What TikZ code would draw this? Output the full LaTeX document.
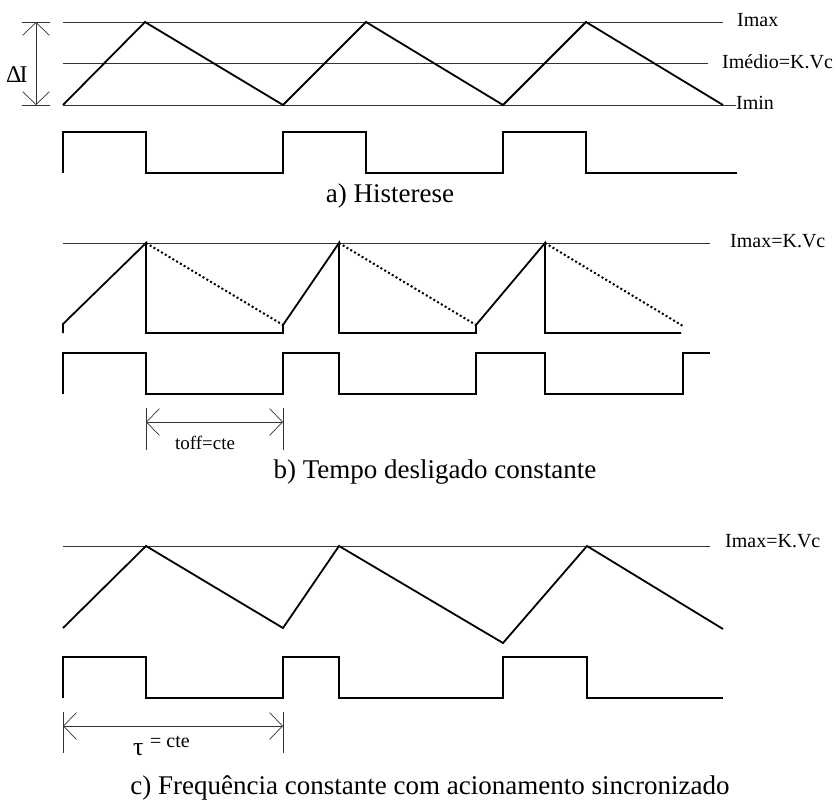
\documentclass[tikz,border=0pt]{standalone}
\usepackage{fontspec}
\setmainfont{Liberation Serif}
\usetikzlibrary{arrows.meta}
\begin{document}
\begin{tikzpicture}[x=1pt,y=-1pt,
  wave/.style={line width=1.8pt, line join=miter},
  refline/.style={line width=0.8pt, black!80},
  dimline/.style={line width=0.7pt, black!80},
  dimarrow/.style={dimline, {Straight Barb[length=13pt,width=27pt]}-{Straight Barb[length=13pt,width=27pt]}},
  dotline/.style={line width=2pt, dash pattern=on 2pt off 2.4pt},
  lbl/.style={font=\fontsize{20}{22}\selectfont, inner sep=0pt, anchor=base west},
  captxt/.style={font=\fontsize{27}{30}\selectfont, inner sep=0pt, anchor=base},
]
\useasboundingbox (0,0) rectangle (836,800);

% ---------------- a) Histerese ----------------
\draw[refline] (63,22) -- (723,22);
\draw[refline] (63,63) -- (708,63);
\draw[refline] (63,105) -- (736,105);
\draw[wave] (63,105) -- (145,22) -- (283,105) -- (366,22) -- (503,105) -- (586,22) -- (723,105);
\draw[wave] (63,173) -- (63,132) -- (146,132) -- (146,173) -- (283,173) -- (283,132)
  -- (366,132) -- (366,173) -- (503,173) -- (503,132) -- (586,132) -- (586,173) -- (737,173);
\coordinate (dItop) at (36,22);
\coordinate (dIbot) at (36,105);
\draw[dimline] (22,22) -- (50,22);
\draw[dimline] (22,105) -- (50,105);
\draw[dimarrow] (dItop) -- (dIbot);
\node[lbl, font=\fontsize{24}{26}\selectfont] (dI) at (6,83) {Δ\kern-2pt I};
\node[lbl] (imaxa) at (737,27) {Imax};
\node[lbl] (imed) at (722,69) {Imédio=K.Vc};
\node[lbl] (imin) at (736,110) {Imin};
\node[captxt] (capa) at (390,202) {a) Histerese};

% ---------------- b) Tempo desligado constante ----------------
\draw[refline] (63,243) -- (710,243);
\draw[wave] (63,333) -- (63,324) -- (146,243) -- (146,333) -- (283,333) -- (283,325)
  -- (339,243) -- (339,333) -- (476,333) -- (476,325) -- (545,243) -- (545,333) -- (681,333);
\draw[dotline] (146,243) -- (283,325);
\draw[dotline] (339,243) -- (476,325);
\draw[dotline] (545,243) -- (683,326);
\draw[wave] (63,394) -- (63,353) -- (146,353) -- (146,394) -- (283,394) -- (283,353)
  -- (339,353) -- (339,394) -- (476,394) -- (476,353) -- (545,353) -- (545,394)
  -- (683,394) -- (683,353) -- (710,353);
\coordinate (toffL) at (146,422);
\coordinate (toffR) at (283,422);
\draw[dimline] (146,408) -- (146,450);
\draw[dimline] (283,408) -- (283,450);
\draw[dimarrow] (toffL) -- (toffR);
\node[lbl, anchor=base, font=\fontsize{19}{21}\selectfont] (toff) at (205,449) {toff=cte};
\node[lbl] (imaxb) at (730,247) {Imax=K.Vc};
\node[captxt] (capb) at (435,478) {b) Tempo desligado constante};

% ---------------- c) Frequencia constante ----------------
\draw[refline] (63,546) -- (710,546);
\draw[wave] (63,628) -- (146,546) -- (283,628) -- (339,546) -- (503,643) -- (587,546) -- (723,629);
\draw[wave] (63,698) -- (63,657) -- (146,657) -- (146,698) -- (283,698) -- (283,657)
  -- (339,657) -- (339,698) -- (503,698) -- (503,657) -- (587,657) -- (587,698) -- (723,698);
\coordinate (tauL) at (63,726);
\coordinate (tauR) at (283,726);
\draw[dimline] (63,712) -- (63,753);
\draw[dimline] (283,712) -- (283,753);
\draw[dimarrow] (tauL) -- (tauR);
\node[lbl, font=\fontsize{26}{28}\selectfont] (tau) at (133,755) {τ};
\node[lbl, font=\fontsize{20}{22}\selectfont] (taucte) at (150,747) {= cte};
\node[lbl] (imaxc) at (725,547) {Imax=K.Vc};
\node[captxt] (capc) at (430,794) {c) Frequência constante com acionamento sincronizado};
\end{tikzpicture}
\end{document}
